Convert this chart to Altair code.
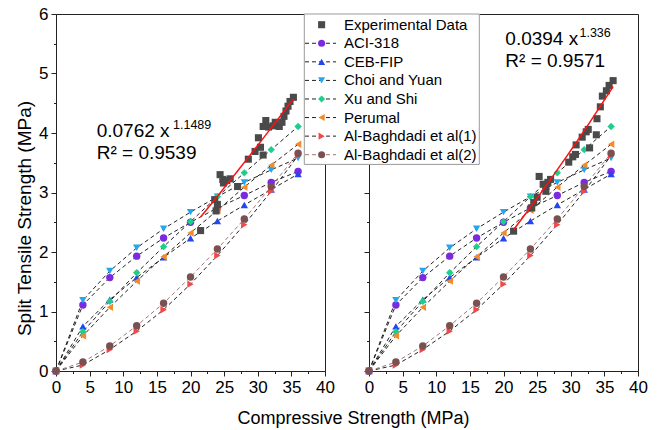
import altair as alt
import pandas as pd

FONT = "Liberation Sans"

# Compressive strength levels used by the prediction models (MPa)
x_levels = [0, 4, 8, 12, 16, 20, 24, 28, 32, 36]

# Predicted split tensile strength (MPa) for each model
aci_318 = [0, 1.11, 1.57, 1.93, 2.235, 2.50, 2.74, 2.95, 3.17, 3.355]
ceb_fip = [0, 0.75, 1.20, 1.57, 1.91, 2.23, 2.52, 2.79, 3.05, 3.31]
choi_yuan = [0, 1.19, 1.68, 2.07, 2.39, 2.67, 2.93, 3.17, 3.38, 3.58]
xu_shi = [0, 0.66, 1.17, 1.65, 2.09, 2.51, 2.93, 3.33, 3.72, 4.11]
perumal = [0, 0.59, 1.07, 1.51, 1.92, 2.32, 2.70, 3.09, 3.46, 3.81]
baghdadi_1 = [0, 0.10, 0.36, 0.67, 1.03, 1.46, 1.94, 2.46, 3.02, 3.62]
baghdadi_2 = [0, 0.15, 0.42, 0.76, 1.14, 1.58, 2.05, 2.555, 3.10, 3.66]

model_names = ["ACI-318", "CEB-FIP", "Choi and Yuan", "Xu and Shi", "Perumal",
               "Al-Baghdadi et al(1)", "Al-Baghdadi et al(2)"]
model_values = [aci_318, ceb_fip, choi_yuan, xu_shi, perumal, baghdadi_1, baghdadi_2]

# Experimental data, first panel
exp1_x = [21.5, 23.6, 23.8, 24.0, 24.4, 24.8, 24.9, 25.4, 25.9, 27.0, 28.6, 29.6, 30.1,
          30.4, 30.8, 30.8, 31.2, 31.6, 32.3, 32.6, 33.2, 33.6, 33.9, 34.2, 34.5, 34.8, 35.3]
exp1_y = [2.36, 2.88, 2.69, 2.80, 3.30, 3.22, 3.16, 3.20, 3.23, 3.10, 3.56, 3.69, 3.92,
          3.76, 3.63, 4.11, 4.21, 4.10, 4.12, 4.18, 4.11, 4.18, 4.28, 4.37, 4.45, 4.53, 4.60]

# Experimental data, second panel
exp2_x = [21.5, 24.2, 24.5, 25.0, 25.3, 25.9, 26.3, 26.3, 26.6, 27.0, 29.7, 30.3, 30.7,
          30.8, 31.7, 32.3, 32.6, 32.8, 33.8, 33.9, 34.4, 34.7, 35.3, 35.7, 36.3]
exp2_y = [2.35, 2.74, 2.83, 2.92, 3.27, 3.14, 3.10, 3.02, 3.17, 3.22, 3.51, 3.60, 3.64,
          3.80, 3.93, 4.02, 4.06, 3.75, 3.97, 4.24, 4.44, 4.62, 4.71, 4.80, 4.88]

# Power-law fits y = a * x^b
fit1 = (0.0762, 1.1489, "0.9539")
fit2 = (0.0394, 1.336, "0.9571")

series = ["Experimental Data"] + model_names
colors = ["#4a4a4a", "#7a2be0", "#2346f0", "#22a6ef", "#1ecf8c", "#f28b2a", "#f24848", "#7b5050"]
shapes = ["square", "circle", "triangle-up", "triangle-down", "diamond",
          "triangle-left", "triangle-right", "circle"]
line_colors = ["transparent", "#222222", "#222222", "#222222", "#222222", "#222222",
               "#222222", "#a07878"]

model_df = pd.DataFrame(
    [{"series": n, "x": x, "y": y}
     for n, vals in zip(model_names, model_values)
     for x, y in zip(x_levels, vals)]
)

x_scale = alt.Scale(domain=[0, 40], nice=False, zero=False)
y_scale = alt.Scale(domain=[0, 6], nice=False)
color_scale = alt.Scale(domain=series, range=colors)
shape_scale = alt.Scale(domain=series, range=shapes)
stroke_scale = alt.Scale(domain=series, range=line_colors)

x_ticks = [i * 2.5 for i in range(17)]
y_ticks = [i * 0.5 for i in range(13)]
minor_x = {"condition": {"test": "datum.value % 5 !== 0", "value": 2.5}, "value": 5}
minor_y = {"condition": {"test": "datum.value % 1 !== 0", "value": 2.5}, "value": 5}


def x_axis():
    return alt.Axis(values=x_ticks,
                    labelExpr="datum.value % 5 === 0 ? format(datum.value, 'd') : ''",
                    tickSize=minor_x, title=None, labelFlush=False, labelOverlap=False,
                    labelPadding=3, grid=False)


def y_axis(show_labels):
    if show_labels:
        return alt.Axis(values=y_ticks,
                        labelExpr="datum.value % 1 === 0 ? format(datum.value, 'd') : ''",
                        tickSize=minor_y, title="Split Tensile Strength (MPa)",
                        titleFontSize=19, titlePadding=4, titleY=204, labelPadding=3,
                        labelOverlap=False, grid=False)
    return alt.Axis(values=y_ticks, tickSize=minor_y, labels=False, title=None, grid=False)


def panel(exp_x, exp_y, fit, show_y_labels, ann):
    a, b, r2 = fit
    exp_df = pd.DataFrame({"series": "Experimental Data", "x": exp_x, "y": exp_y})
    fx = sorted(set(exp_x))
    fit_df = pd.DataFrame({"x": fx, "y": [a * v ** b for v in fx]})

    X = alt.X("x:Q", scale=x_scale, axis=x_axis())
    Y = alt.Y("y:Q", scale=y_scale, axis=y_axis(show_y_labels))

    lines = alt.Chart(model_df).mark_line(strokeDash=[4, 3], strokeWidth=1).encode(
        x=X, y=Y,
        stroke=alt.Stroke("series:N", scale=stroke_scale, legend=None),
        detail="series:N", order="x:Q",
    )
    points = alt.Chart(model_df).mark_point(filled=True, size=55, opacity=1).encode(
        x=X, y=Y,
        color=alt.Color("series:N", scale=color_scale, legend=None),
        shape=alt.Shape("series:N", scale=shape_scale, legend=None),
    )
    exp_pts = alt.Chart(exp_df).mark_point(filled=True, size=50, opacity=1).encode(
        x=X, y=Y,
        color=alt.Color("series:N", scale=color_scale, legend=None),
        shape=alt.Shape("series:N", scale=shape_scale, legend=None),
    )
    fit_line = alt.Chart(fit_df).mark_line(color="#ff1010", strokeWidth=1.5).encode(x=X, y=Y)

    (tx, ty), (sx, sy), (rx, ry) = ann
    main_txt = pd.DataFrame({"x": [tx, rx], "y": [ty, ry],
                             "t": [f"{a} x", f"R\u00b2 = {r2}"]})
    sup_txt = pd.DataFrame({"x": [sx], "y": [sy], "t": [f"{b}"]})
    t1 = alt.Chart(main_txt).mark_text(align="left", baseline="alphabetic", font=FONT,
                                       fontSize=19, color="black").encode(x=X, y=Y, text="t:N")
    t2 = alt.Chart(sup_txt).mark_text(align="left", baseline="alphabetic", font=FONT,
                                      fontSize=12.5, color="black").encode(x=X, y=Y, text="t:N")
    return alt.layer(lines, points, exp_pts, fit_line, t1, t2)


left = panel(exp1_x, exp1_y, fit1, True,
             ((6.05, 3.93), (17.4, 4.07), (6.05, 3.56))).properties(width=269, height=357)
right_data = panel(exp2_x, exp2_y, fit2, False,
                   ((20.27, 5.48), (31.3, 5.62), (20.27, 5.11)))

# Legend drawn as its own layer, sitting over the gap between the panels
legend_df = pd.DataFrame({"series": series, "row": list(range(len(series)))})
row_y = alt.Y("row:Q", scale=alt.Scale(domain=[0, 7], range=[10.7, 140.7]), axis=None)

box = alt.Chart(pd.DataFrame({"k": [0]})).mark_rect(
    fill="white", stroke="#9a9a9a", strokeWidth=1
).encode(x=alt.value(-64.7), x2=alt.value(110.3), y=alt.value(0), y2=alt.value(150.4))
leg_lines = alt.Chart(legend_df).transform_filter(
    alt.datum.row > 0
).mark_rule(strokeDash=[4, 3], strokeWidth=1).encode(
    x=alt.value(-64), x2=alt.value(-33), y=row_y,
    stroke=alt.Stroke("series:N", scale=stroke_scale, legend=None),
)
leg_pts = alt.Chart(legend_df).mark_point(filled=True, size=50, opacity=1).encode(
    x=alt.value(-47.4), y=row_y,
    color=alt.Color("series:N", scale=color_scale, legend=None),
    shape=alt.Shape("series:N", scale=shape_scale, legend=None),
)
leg_txt = alt.Chart(legend_df).mark_text(align="left", baseline="middle", font=FONT,
                                         fontSize=15, color="black").encode(
    x=alt.value(-25), y=row_y, text="series:N"
)
legend_layer = alt.layer(box, leg_lines, leg_pts, leg_txt)

right = alt.layer(right_data, legend_layer).resolve_scale(y="independent").properties(
    width=269, height=357
)

chart = alt.hconcat(left, right, spacing=44, bounds="flush").properties(
    title=alt.TitleParams("Compressive Strength (MPa)", orient="bottom", anchor="middle",
                          font=FONT, fontSize=18, fontWeight="normal",
                          color="black", offset=14, dx=22),
    padding={"left": 15, "top": 4, "right": 5, "bottom": 5},
).configure_view(
    stroke="#222222", strokeWidth=1
).configure_axis(
    labelFont=FONT, labelFontSize=17, labelColor="black",
    titleFont=FONT, titleFontSize=18, titleFontWeight="normal", titleColor="black",
    domainColor="#222222", tickColor="#222222", domainWidth=1, tickWidth=1,
)

chart.save("out.html", embed_options={"renderer": "svg", "actions": False})
